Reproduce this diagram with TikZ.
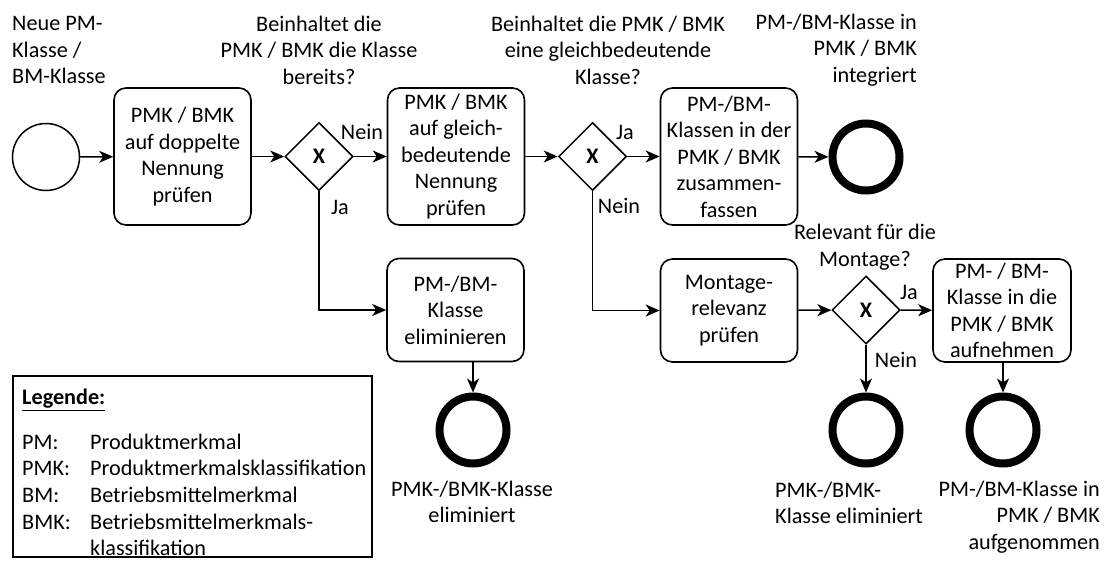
\documentclass[tikz,border=0pt]{standalone}
\usepackage{fontspec}
\setmainfont{Carlito}
\usetikzlibrary{shapes.geometric,arrows.meta,calc}
\begin{document}
\begin{tikzpicture}[x=1pt,y=-1pt,
  font=\fontsize{22.2}{26.5}\selectfont,
  task/.style={draw, line width=1.6pt, rounded corners=12pt, align=center,
    inner sep=0pt, minimum width=137pt, minimum height=137pt},
  tasklow/.style={task, minimum height=103pt},
  startev/.style={circle, draw, line width=1.5pt, minimum size=67pt, inner sep=0pt},
  endev/.style={circle, draw, line width=8pt, minimum size=67pt, inner sep=0pt, outer sep=4pt},
  gate/.style={diamond, draw, line width=1.5pt, minimum width=68pt, minimum height=68pt,
    inner sep=0pt, font=\bfseries\fontsize{22.2}{26.5}\selectfont},
  flow/.style={-{Stealth[length=14pt,width=12pt,inset=4pt]}, line width=1.5pt},
  lbl/.style={inner sep=0pt},
  note/.style={inner sep=0pt, align=center},
]
\useasboundingbox (0,0) rectangle (1106,560);

% main row
\node[startev] (start) at (46,157) {};
\node[task] (b1) at (182.5,156.5) {PMK / BMK\\auf doppelte\\Nennung\\prüfen};
\node[gate] (g1) at (319,156.5) {X};
\node[task] (b2) at (456,156.5) {PMK / BMK\\auf gleich-\\bedeutende\\Nennung\\prüfen};
\node[gate] (g2) at (592.5,156.5) {X};
\node[task] (b3) at (729,156.5) {PM-/BM-\\Klassen in der\\PMK / BMK\\zusammen-\\fassen};
\node[endev] (e1) at (866,157) {};

% second row
\node[tasklow] (b4) at (455.5,310) {PM-/BM-\\Klasse\\eliminieren};
\node[endev] (e2) at (473,430) {};
\node[tasklow] (b5) at (729,310.5) {Montage-\\relevanz\\prüfen};
\node[gate] (g3) at (866,310) {X};
\node[tasklow, minimum width=138pt] (b6) at (1002,310.5) {PM- / BM-\\Klasse in die\\PMK / BMK\\aufnehmen};
\node[endev] (e3) at (866,430) {};
\node[endev] (e4) at (1003,430) {};

% connectors
\draw[flow] (start) -- (b1);
\draw[flow] (b1) -- (g1);
\draw[flow] (g1) -- (b2);
\draw[flow] (g1.south) |- (b4.west);
\draw[flow] (b2) -- (g2);
\draw[flow] (g2) -- (b3);
\draw[flow] (g2.south) |- (b5.west);
\draw[flow] (b3) -- (e1);
\draw[flow] (b4.south -| e2) -- (e2);
\draw[flow] (b5) -- (g3);
\draw[flow] (g3) -- (b6);
\draw[flow] (g3) -- (e3);
\draw[flow] (b6.south -| e4) -- (e4);

% gateway branch labels
\node[lbl] (l1) at (362,132) {Nein};
\node[lbl] (l2) at (340,207) {Ja};
\node[lbl] (l3) at (625,132) {Ja};
\node[lbl] (l4) at (619,206) {Nein};
\node[lbl] (l5) at (909,292) {Ja};
\node[lbl] (l6) at (896,360) {Nein};

% event and question annotations
\node[note, align=left, anchor=west] (t1) at (12,50) {Neue PM-\\Klasse /\\BM-Klasse};
\node[note] (t2) at (319,50) {Beinhaltet die\\PMK / BMK die Klasse\\bereits?};
\node[note] (t3) at (608,50) {Beinhaltet die PMK / BMK\\eine gleichbedeutende\\Klasse?};
\node[note, align=right, anchor=east] (t4) at (917,50) {PM-/BM-Klasse in\\PMK / BMK\\integriert};
\node[note] (t5) at (865,247) {Relevant für die\\Montage?};
\node[note] (t6) at (472,502) {PMK-/BMK-Klasse\\eliminiert};
\node[note, align=left, anchor=west] (t7) at (775,503) {PMK-/BMK-\\Klasse eliminiert};
\node[note, align=right, anchor=east] (t8) at (1100,517) {PM-/BM-Klasse in\\PMK / BMK\\aufgenommen};

% legend
\node[draw, line width=1.5pt, minimum width=359pt, minimum height=181pt, anchor=north west, inner sep=0pt] (legend) at (12,375) {};
\node[lbl, anchor=west] (lh) at (22,400) {\underline{\textbf{Legende:}}};
\node[lbl, anchor=west] (k1) at (22,442) {PM:};
\node[lbl, anchor=west] (k2) at (22,468) {PMK:};
\node[lbl, anchor=west] (k3) at (22,495) {BM:};
\node[lbl, anchor=west] (k4) at (22,522) {BMK:};
\node[lbl, anchor=west] (d1) at (90,442) {Produktmerkmal};
\node[lbl, anchor=west] (d2) at (90,468) {Produktmerkmalsklassifikation};
\node[lbl, anchor=west] (d3) at (90,495) {Betriebsmittelmerkmal};
\node[lbl, anchor=west] (d4) at (90,522) {Betriebsmittelmerkmals-};
\node[lbl, anchor=west] (d5) at (90,548) {klassifikation};
\end{tikzpicture}
\end{document}
